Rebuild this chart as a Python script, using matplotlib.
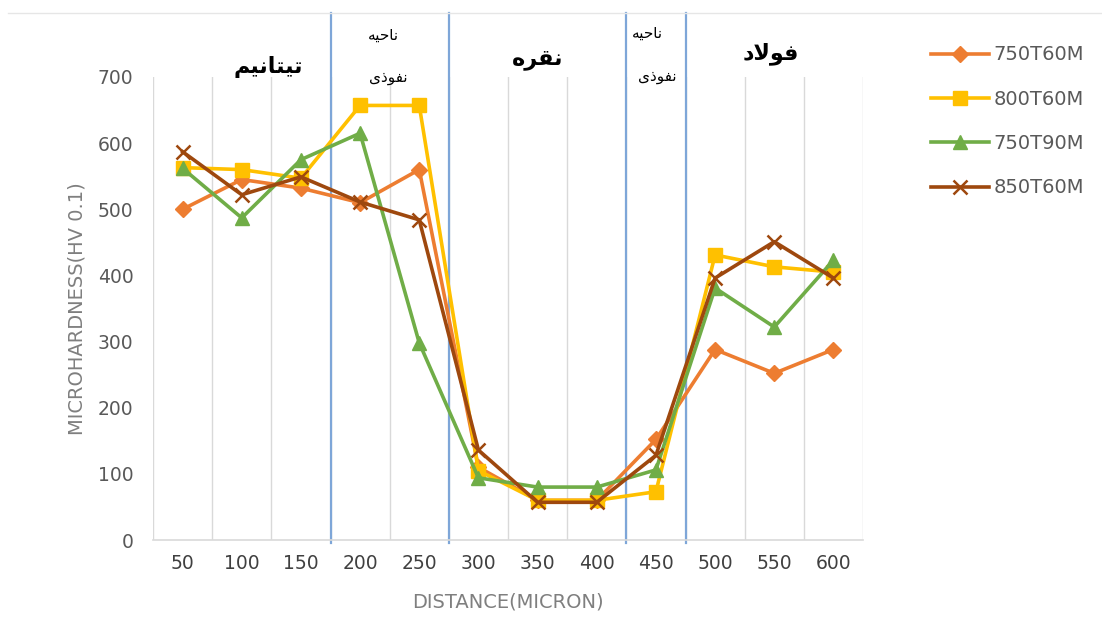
import numpy as np
import matplotlib.pyplot as plt
from matplotlib.lines import Line2D
from matplotlib.transforms import blended_transform_factory

# ── data ──
distance = [50, 100, 150, 200, 250, 300, 350, 400, 450, 500, 550, 600]
hv_750T60M = [500, 545, 532, 510, 560, 110, 60, 60, 152, 288, 252, 288]
hv_800T60M = [563, 560, 547, 657, 657, 105, 60, 60, 73, 431, 413, 405]
hv_750T90M = [562, 487, 575, 615, 298, 94, 80, 80, 106, 381, 322, 423]
hv_850T60M = [587, 522, 549, 511, 484, 136, 57, 57, 128, 396, 451, 396]
series_names = ["750T60M", "800T60M", "750T90M", "850T60M"]

# zone boundaries sit between these category indices
zone_bounds = [2.5, 4.5, 7.5, 8.5]
# zone labels: (text, x position in category units, y in axes fraction, size, bold)
zone_labels = [
    ("تیتانیم", 1.45, 1.022, 16, True),
    ("ناحیه", 3.39, 1.091, 11, False),
    ("نفوذی", 3.47, 0.998, 11, False),
    ("نقره", 6.0, 1.037, 16, True),
    ("ناحیه", 7.85, 1.094, 11, False),
    ("نفوذی", 8.03, 1.0, 11, False),
    ("فولاد", 9.94, 1.05, 16, True),
]

# matplotlib has no Arabic shaping, so pick the presentation forms by hand
# (isolated, final, initial, medial)
FORMS = {
    "ا": ("\uFE8D", "\uFE8E", None, None),
    "ت": ("\uFE95", "\uFE96", "\uFE97", "\uFE98"),
    "ح": ("\uFEA1", "\uFEA2", "\uFEA3", "\uFEA4"),
    "د": ("\uFEA9", "\uFEAA", None, None),
    "ذ": ("\uFEAB", "\uFEAC", None, None),
    "ر": ("\uFEAD", "\uFEAE", None, None),
    "ف": ("\uFED1", "\uFED2", "\uFED3", "\uFED4"),
    "ق": ("\uFED5", "\uFED6", "\uFED7", "\uFED8"),
    "ل": ("\uFEDD", "\uFEDE", "\uFEDF", "\uFEE0"),
    "م": ("\uFEE1", "\uFEE2", "\uFEE3", "\uFEE4"),
    "ن": ("\uFEE5", "\uFEE6", "\uFEE7", "\uFEE8"),
    "ه": ("\uFEE9", "\uFEEA", "\uFEEB", "\uFEEC"),
    "و": ("\uFEED", "\uFEEE", None, None),
    "ی": ("\uFBFC", "\uFBFD", "\uFBFE", "\uFBFF"),
}


def shape(word):
    out = []
    n = len(word)
    for i, c in enumerate(word):
        prev = word[i - 1] if i > 0 else None
        nxt = word[i + 1] if i < n - 1 else None
        if c == "ا" and prev == "ل":
            continue
        joins_prev = prev is not None and FORMS[prev][2] is not None
        if c == "ل" and nxt == "ا":
            out.append("\uFEFC" if joins_prev else "\uFEFB")
            continue
        joins_next = nxt is not None and FORMS[c][2] is not None
        f = FORMS[c]
        if joins_prev and joins_next:
            out.append(f[3])
        elif joins_prev:
            out.append(f[1])
        elif joins_next:
            out.append(f[2])
        else:
            out.append(f[0])
    return "".join(reversed(out))


plt.rcParams.update({
    "font.family": ["DejaVu Sans"],
    "axes.linewidth": 0.8,
})

c_orange, c_yellow, c_green, c_brown = "#ED7D31", "#FFC000", "#70AD47", "#9E480E"
c_blue = "#7EA6D8"
c_grid = "#D9D9D9"

fig = plt.figure(figsize=(11.02, 6.31), dpi=100)
ax = fig.add_axes([153 / 1102, 1 - 540 / 631, 710 / 1102, 463 / 631])

x = np.arange(len(distance))
styles = [
    (hv_750T60M, c_orange, "D", 8, 1.0),
    (hv_800T60M, c_yellow, "s", 9.5, 1.0),
    (hv_750T90M, c_green, "^", 10, 1.0),
    (hv_850T60M, c_brown, "x", 10, 1.8),
]
for (vals, col, mk, ms, mew), name in zip(styles, series_names):
    ax.plot(x, vals, color=col, lw=2.6, marker=mk, ms=ms, mew=mew,
            mfc=col, mec=col, label=name, zorder=3, clip_on=False)

ax.set_xlim(-0.5, len(distance) - 0.5)
ax.set_ylim(0, 700)
ax.set_yticks(np.arange(0, 701, 100))
ax.set_xticks(x)
ax.set_xticklabels([str(d) for d in distance])
ax.set_xticks(np.arange(-0.5, len(distance)), minor=True)
ax.tick_params(axis="both", which="both", length=0)
ax.tick_params(axis="y", labelsize=13.5, labelcolor="#595959", pad=14)
ax.tick_params(axis="x", labelsize=13.5, labelcolor="#404040", pad=10)
ax.grid(which="minor", axis="x", color=c_grid, lw=1.0, zorder=0)
for s in ["top", "right", "left"]:
    ax.spines[s].set_visible(False)
ax.spines["bottom"].set_color(c_grid)
ax.spines["bottom"].set_linewidth(1.2)

ax.set_xlabel("DISTANCE(MICRON)", fontsize=14, color="#7F7F7F", labelpad=14)
ax.set_ylabel("MICROHARDNESS(HV 0.1)", fontsize=14, color="#7F7F7F", labelpad=8)

# blue zone separators, running up past the plot top
for b in zone_bounds:
    ax.axvline(b, ymin=-0.007, ymax=1.138, color=c_blue, lw=1.6,
               clip_on=False, zorder=2)

trans = blended_transform_factory(ax.transData, ax.transAxes)
for txt, xp, yp, size, bold in zone_labels:
    ax.text(xp, yp, shape(txt), transform=trans, ha="center", va="center",
            fontsize=size, fontweight="bold" if bold else "normal",
            color="black")

# faint frame line at the very top
fig.add_artist(Line2D([8 / 1102, 1], [1 - 13 / 631] * 2,
                      transform=fig.transFigure, color="#E6E6E6", lw=1.0))

fig.legend(loc="upper left", bbox_to_anchor=(913 / 1102, 1 - 28 / 631),
           frameon=False, fontsize=14, handlelength=3.0, handletextpad=0.25,
           labelspacing=1.3, labelcolor="#595959")

fig.savefig("out.png", dpi=100)
